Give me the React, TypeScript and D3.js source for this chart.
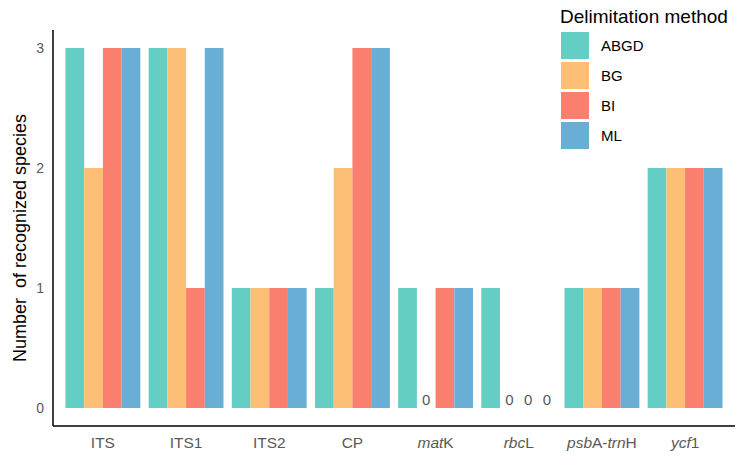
import React from "react";
import * as d3 from "d3";

const categories = ["ITS", "ITS1", "ITS2", "CP", "matK", "rbcL", "psbA-trnH", "ycf1"];
const methods = ["ABGD", "BG", "BI", "ML"];
const colors = ["#64CDC4", "#FDBE76", "#FA7F6F", "#69AFD5"];
const ABGD = [3, 3, 1, 1, 1, 1, 1, 2];
const BG = [2, 3, 1, 2, 0, 0, 1, 2];
const BI = [3, 1, 1, 3, 1, 0, 1, 2];
const ML = [3, 3, 1, 3, 1, 0, 1, 2];
const yTicks = [0, 1, 2, 3];
// tick label parts: [text, italic]
const tickParts: [string, boolean][][] = [
  [["ITS", false]],
  [["ITS1", false]],
  [["ITS2", false]],
  [["CP", false]],
  [["mat", true], ["K", false]],
  [["rbc", true], ["L", false]],
  [["psb", true], ["A-", false], ["trn", true], ["H", false]],
  [["ycf", true], ["1", false]],
];

const W = 745, H = 467;
const left = 53, right = 735, top = 30, bottom = 426;

export default function App() {
  const series = [ABGD, BG, BI, ML];
  const x = d3.scaleBand<string>().domain(categories).range([left, right]).paddingInner(0.1).paddingOuter(0.15);
  const xi = d3.scaleBand<string>().domain(methods).range([0, x.bandwidth()]).padding(0);
  const y = d3.scaleLinear().domain([-0.15, 3.15]).range([bottom, top]);
  const font = "Liberation Sans, Arial, Helvetica, sans-serif";
  const grey = "#595959";

  return (
    <svg width={W} height={H} style={{ position: "absolute", left: 0, top: 0, background: "#fff" }} fontFamily={font}>
      {categories.map((c, ci) =>
        methods.map((m, mi) => {
          const v = series[mi][ci];
          const bx = (x(c) as number) + (xi(m) as number);
          if (v === 0) {
            return (
              <text key={c + m} x={bx + xi.bandwidth() / 2} y={y(0) - 3} textAnchor="middle" fontSize={15} fill={grey}>
                0
              </text>
            );
          }
          return (
            <rect key={c + m} x={bx} y={y(v)} width={xi.bandwidth()} height={y(0) - y(v)} fill={colors[mi]} />
          );
        })
      )}
      <line x1={left} x2={left} y1={top} y2={bottom} stroke="#000" strokeWidth={1.5} />
      <line x1={left} x2={right} y1={bottom} y2={bottom} stroke="#000" strokeWidth={1.5} />
      {yTicks.map((t) => (
        <text key={t} x={44} y={y(t)} dy="0.35em" textAnchor="end" fontSize={14} fill={grey}>
          {t}
        </text>
      ))}
      {categories.map((c, ci) => (
        <text key={c} x={(x(c) as number) + x.bandwidth() / 2} y={448} textAnchor="middle" fontSize={15.5} fill={grey}>
          {tickParts[ci].map(([s, it], k) => (
            <tspan key={k} fontStyle={it ? "italic" : "normal"}>{s}</tspan>
          ))}
        </text>
      ))}
      <text transform={`translate(26,${(top + bottom) / 2 + 10}) rotate(-90)`} textAnchor="middle" fontSize={18} fill="#000" xmlSpace="preserve">
        Number  of recognized species
      </text>
      <text x={560} y={23} fontSize={19} fill="#000">Delimitation method</text>
      {methods.map((m, i) => (
        <g key={m} transform={`translate(561,${32 + i * 30})`}>
          <rect width={28} height={27} fill={colors[i]} />
          <text x={40} y={13.5} dy="0.35em" fontSize={15} fill="#000">{m}</text>
        </g>
      ))}
    </svg>
  );
}
